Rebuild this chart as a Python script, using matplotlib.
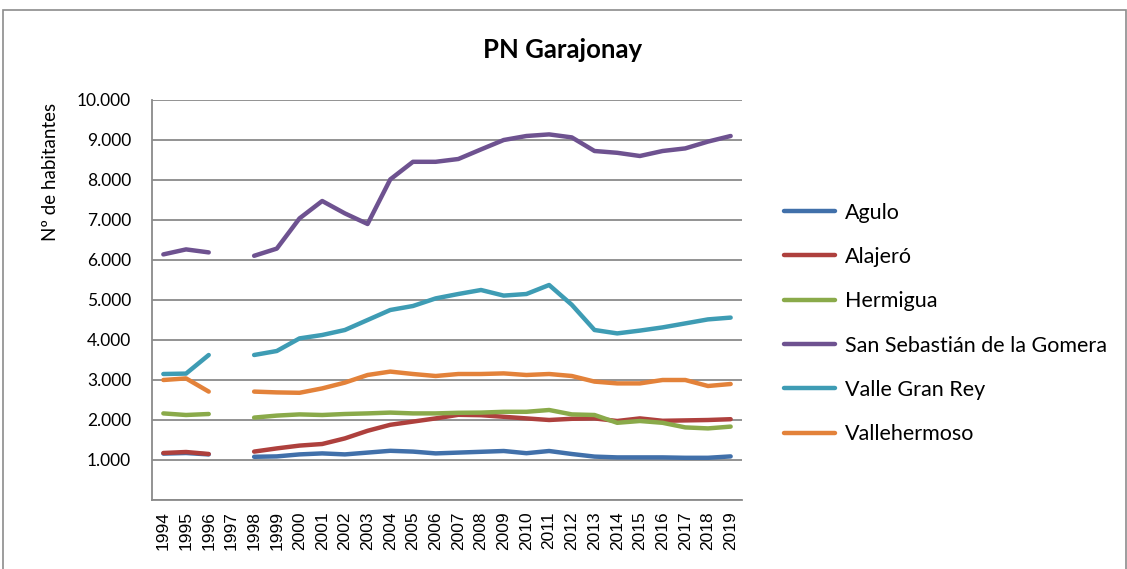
import numpy as np
import matplotlib.pyplot as plt
from matplotlib.patches import Rectangle
from matplotlib.ticker import FuncFormatter, MultipleLocator

nan = np.nan

years = [str(y) for y in range(1994, 2020)]

agulo = [1160, 1175, 1140, nan, 1080, 1090, 1140, 1165, 1140, 1185, 1230, 1210, 1165,
         1185, 1205, 1225, 1170, 1225, 1150, 1085, 1065, 1065, 1065, 1055, 1055, 1090]
alajero = [1175, 1200, 1150, nan, 1210, 1290, 1360, 1400, 1540, 1730, 1880, 1960, 2040,
           2130, 2120, 2080, 2040, 2000, 2030, 2040, 1975, 2040, 1980, 1990, 2000, 2020]
hermigua = [2165, 2125, 2150, nan, 2060, 2110, 2140, 2125, 2150, 2165, 2185, 2165, 2165,
            2180, 2185, 2205, 2205, 2250, 2140, 2125, 1930, 1975, 1930, 1815, 1790, 1835]
san_sebastian = [6140, 6265, 6190, nan, 6105, 6285, 7040, 7475, 7165, 6900, 8015, 8455, 8455,
                 8525, 8765, 9000, 9100, 9140, 9065, 8725, 8680, 8600, 8725, 8790, 8960, 9100]
valle_gran_rey = [3150, 3160, 3625, nan, 3625, 3725, 4040, 4125, 4250, 4500, 4750, 4850, 5040,
                  5150, 5250, 5110, 5150, 5375, 4880, 4250, 4165, 4235, 4315, 4415, 4515, 4560]
vallehermoso = [3000, 3040, 2710, nan, 2710, 2690, 2680, 2790, 2935, 3125, 3210, 3150, 3100,
                3150, 3150, 3165, 3125, 3150, 3100, 2960, 2915, 2915, 3000, 3000, 2850, 2900]

series = [
    ("Agulo", agulo, "#4170AA"),
    ("Alajeró", alajero, "#AE403D"),
    ("Hermigua", hermigua, "#8AAA4A"),
    ("San Sebastián de la Gomera", san_sebastian, "#6E5290"),
    ("Valle Gran Rey", valle_gran_rey, "#3E9CB4"),
    ("Vallehermoso", vallehermoso, "#E3823A"),
]

plt.rcParams['font.family'] = ['Lato', 'DejaVu Sans']

fig = plt.figure(figsize=(11.27, 5.69), dpi=100)

# chart area border
fig.patches.append(Rectangle((3 / 1127, -0.05), 1123 / 1127, 1 - 10 / 569 + 0.05,
                             transform=fig.transFigure, fill=False,
                             edgecolor='#8c8c8c', linewidth=1.2))

ax = fig.add_axes([152 / 1127, 69 / 569, 590 / 1127, 400 / 569])

x = np.arange(len(years))
for name, vals, color in series:
    ax.plot(x, vals, color=color, linewidth=3.2, solid_capstyle='round',
            solid_joinstyle='round', label=name)

ax.set_xlim(-0.5, len(years) - 0.5)
ax.set_ylim(0, 10000)
ax.yaxis.set_major_locator(MultipleLocator(1000))
ax.yaxis.set_major_formatter(FuncFormatter(lambda v, p: f"{int(v):,}".replace(",", ".") if v > 0 else ""))
ax.grid(axis='y', color='#8a8a8a', linewidth=1.3)
ax.set_axisbelow(True)

ax.set_xticks(x)
ax.set_xticklabels(years, rotation=90, fontsize=12.5, family=['Liberation Sans'])
ax.tick_params(axis='x', length=0, pad=8)
ax.tick_params(axis='y', length=0, labelsize=12.5, pad=15)

for side in ['top', 'right']:
    ax.spines[side].set_visible(False)
for side in ['left', 'bottom']:
    ax.spines[side].set_color('#8a8a8a')
    ax.spines[side].set_linewidth(1.3)

fig.text(563 / 1127, 1 - 50 / 569, "PN Garajonay", ha='center', va='center',
         fontsize=18.5, fontweight='bold')
fig.text(50 / 1127, 1 - 172 / 569, "Nº de habitantes", ha='center', va='center',
         rotation=90, fontsize=13.5)

ax.legend(loc='upper left', bbox_to_anchor=(775 / 1127, 1 - 194 / 569),
          bbox_transform=fig.transFigure, frameon=False, fontsize=15.5,
          handlelength=2.4, handletextpad=0.45, labelspacing=1.13,
          borderaxespad=0)

plt.savefig('out.png', dpi=100)
plt.close(fig)
